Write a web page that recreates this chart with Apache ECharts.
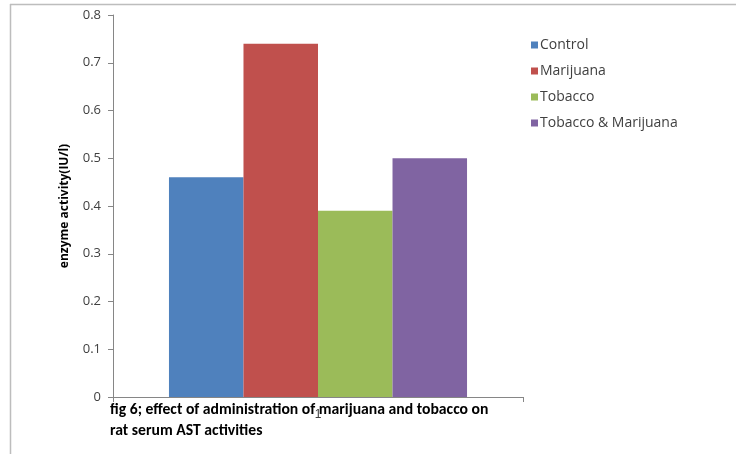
<!DOCTYPE html>
<html>
<head>
<meta charset="utf-8">
<script src="https://cdn.jsdelivr.net/npm/echarts@6/dist/echarts.min.js"></script>
<style>html,body{margin:0;padding:0;background:#fff}#c{width:745px;height:454px}</style>
</head>
<body>
<div id="c"></div>
<script>
var categories = ['1'];
var seriesNames = ['Control', 'Marijuana', 'Tobacco', 'Tobacco & Marijuana'];
var seriesValues = [[0.46], [0.74], [0.39], [0.50]];
var yTicks = [0, 0.1, 0.2, 0.3, 0.4, 0.5, 0.6, 0.7, 0.8];
var colors = ['#4F81BD', '#C0504D', '#9BBB59', '#8064A2'];
var caption = ['fig 6; effect of administration of marijuana and tobacco on', 'rat serum AST activities'];

var chart = echarts.init(document.getElementById('c'));
var series = seriesNames.map(function (n, i) {
  return {
    name: n, type: 'bar', data: seriesValues[i],
    itemStyle: { color: colors[i] },
    barGap: '0%', barCategoryGap: '27.3%'
  };
});
var capFont = 'bold 15.7px Carlito, Lato, "Liberation Sans", sans-serif';
chart.setOption({
  animation: false,
  backgroundColor: '#fff',
  grid: { left: 113, right: 222, top: 15, bottom: 57 },
  legend: {
    orient: 'vertical', left: 526, top: 32,
    icon: 'rect', itemWidth: 7, itemHeight: 7, itemGap: 10,
    textStyle: { fontSize: 14, color: '#404040', fontFamily: '"Open Sans", sans-serif', lineHeight: 16, padding: [0, 0, 0, -3] },
    data: seriesNames
  },
  xAxis: {
    type: 'category', data: categories,
    axisLine: { lineStyle: { color: '#868686' } },
    axisTick: { show: true, length: 5, lineStyle: { color: '#868686' } },
    axisLabel: { color: '#404040', fontSize: 12, margin: 12 }
  },
  yAxis: {
    type: 'value', min: yTicks[0], max: yTicks[yTicks.length - 1], interval: 0.1,
    name: 'enzyme activity(IU/l)', nameLocation: 'middle', nameGap: 42,
    nameTextStyle: { fontWeight: 'bold', fontSize: 12, color: '#000', fontFamily: '"Open Sans", sans-serif' },
    axisLine: { show: true, lineStyle: { color: '#868686' } },
    axisTick: { show: true, length: 5, lineStyle: { color: '#868686' } },
    splitLine: { show: false },
    axisLabel: { color: '#404040', fontSize: 13, margin: 12, fontFamily: '"Open Sans", sans-serif',
      formatter: function (v) { return String(Math.round(v * 10) / 10); } }
  },
  series: series,
  graphic: [
    { type: 'line', shape: { x1: 10, y1: 4.5, x2: 736, y2: 4.5 }, style: { stroke: '#bdbdbd', lineWidth: 1.5 }, silent: true },
    { type: 'line', shape: { x1: 10.5, y1: 4, x2: 10.5, y2: 454 }, style: { stroke: '#bdbdbd', lineWidth: 1.5 }, silent: true },
    { type: 'text', left: 110, top: 402, z: 100, style: { text: caption[0], font: capFont, fill: '#000' } },
    { type: 'text', left: 110, top: 423, z: 100, style: { text: caption[1], font: capFont, fill: '#000' } }
  ]
});
</script>
</body>
</html>
